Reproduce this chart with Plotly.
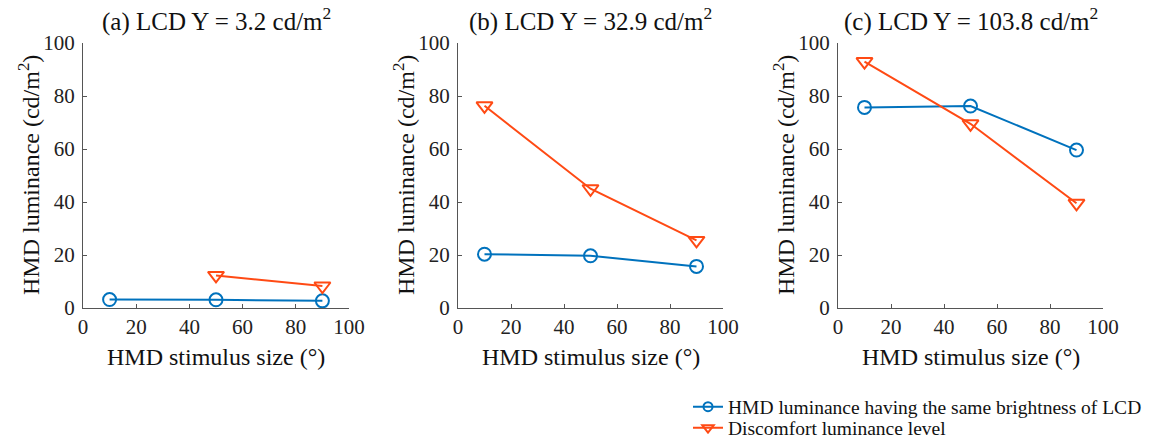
import plotly.graph_objects as go

stim_sizes = [10, 50, 90]
panel_titles = ["(a) LCD Y = 3.2 cd/m<sup>2</sup>",
                "(b) LCD Y = 32.9 cd/m<sup>2</sup>",
                "(c) LCD Y = 103.8 cd/m<sup>2</sup>"]
same_brightness = [
    [3.2, 3.1, 2.7],
    [20.3, 19.7, 15.7],
    [75.7, 76.2, 59.6],
]
discomfort_x = [[50, 90], [10, 50, 90], [10, 50, 90]]
discomfort = [
    [12.3, 8.3],
    [76.3, 45.0, 25.5],
    [93.0, 69.5, 39.5],
]
series_names = ["HMD luminance having the same brightness of LCD",
                "Discomfort luminance level"]
x_title = "HMD stimulus size (°)"
y_title = "HMD luminance (cd/m<sup>2</sup>)"
x_ticks = [0, 20, 40, 60, 80, 100]
y_ticks = [0, 20, 40, 60, 80, 100]

BLUE = "#0072BD"
ORANGE = "#FF4A14"
FONT = "Liberation Serif"
W, H = 1155, 440

x_domains = [(83, 349), (458, 723), (838, 1103)]
y_top, y_bot = 43, 308

fig = go.Figure()
for i in range(3):
    xa = "x" if i == 0 else f"x{i+1}"
    ya = "y" if i == 0 else f"y{i+1}"
    fig.add_trace(go.Scatter(
        x=stim_sizes, y=same_brightness[i], xaxis=xa, yaxis=ya,
        mode="lines+markers", name=series_names[0], showlegend=False,
        line=dict(color=BLUE, width=2),
        marker=dict(symbol="circle-open", size=13, color=BLUE,
                    line=dict(width=2, color=BLUE)),
    ))
    fig.add_trace(go.Scatter(
        x=discomfort_x[i], y=discomfort[i], xaxis=xa, yaxis=ya,
        mode="lines+markers", name=series_names[1], showlegend=False,
        line=dict(color=ORANGE, width=2),
        marker=dict(symbol="triangle-down-open", size=14, color=ORANGE,
                    line=dict(width=2, color=ORANGE)),
    ))

# legend-only entries (smaller symbols, as in the reference legend)
fig.add_trace(go.Scatter(
    x=[None], y=[None], mode="lines+markers", name=series_names[0],
    legend="legend", line=dict(color=BLUE, width=2),
    marker=dict(symbol="circle-open", size=9, color=BLUE, line=dict(width=2, color=BLUE)),
))
fig.add_trace(go.Scatter(
    x=[None], y=[None], mode="lines+markers", name=series_names[1],
    legend="legend2", line=dict(color=ORANGE, width=2),
    marker=dict(symbol="triangle-down-open", size=10, color=ORANGE, line=dict(width=2, color=ORANGE)),
))

leg_common = dict(xanchor="left", yanchor="middle",
                  font=dict(family=FONT, size=19.5, color="#111111"),
                  bgcolor="rgba(0,0,0,0)", itemwidth=30)

layout = dict(
    template="none",
    width=W, height=H,
    margin=dict(l=0, r=0, t=0, b=0, autoexpand=False),
    paper_bgcolor="white", plot_bgcolor="white",
    font=dict(family=FONT, size=21, color="#222222"),
    showlegend=True,
    legend=dict(x=688 / W, y=1 - 407 / H, **leg_common),
    legend2=dict(x=688 / W, y=1 - 428 / H, **leg_common),
)
annotations = []
for i in range(3):
    x0, x1 = x_domains[i]
    axis_common = dict(showline=True, linecolor="#555555", linewidth=1,
                       ticks="inside", ticklen=4, tickcolor="#555555",
                       showgrid=False, zeroline=False, automargin=False,
                       tickfont=dict(family=FONT, size=21, color="#222222"))
    xk = "xaxis" if i == 0 else f"xaxis{i+1}"
    yk = "yaxis" if i == 0 else f"yaxis{i+1}"
    ya_name = "y" if i == 0 else f"y{i+1}"
    xa_name = "x" if i == 0 else f"x{i+1}"
    layout[xk] = dict(domain=[x0 / W, x1 / W], range=[0, 100],
                      tickvals=x_ticks, anchor=ya_name, **axis_common)
    layout[yk] = dict(domain=[1 - y_bot / H, 1 - y_top / H], range=[0, 100],
                      tickvals=y_ticks, anchor=xa_name, ticklabelstandoff=3,
                      **axis_common)
    annotations.append(dict(text=panel_titles[i], xref="paper", yref="paper",
                            x=(x0 + x1) / 2 / W, y=1 - 20 / H,
                            xanchor="center", yanchor="middle", showarrow=False,
                            font=dict(family=FONT, size=25, color="#111111")))
    annotations.append(dict(text=x_title, xref="paper", yref="paper",
                            x=(x0 + x1) / 2 / W, y=1 - 357 / H,
                            xanchor="center", yanchor="middle", showarrow=False,
                            font=dict(family=FONT, size=24, color="#111111")))
    annotations.append(dict(text=y_title, xref="paper", yref="paper",
                            x=(x0 - 54) / W, y=1 - 175 / H, textangle=-90,
                            xanchor="center", yanchor="middle", showarrow=False,
                            font=dict(family=FONT, size=24, color="#111111")))
layout["annotations"] = annotations
fig.update_layout(**layout)
fig.write_html("out.html", config={"displayModeBar": False},
               post_script="document.body.style.margin='0';document.body.style.padding='0';")
